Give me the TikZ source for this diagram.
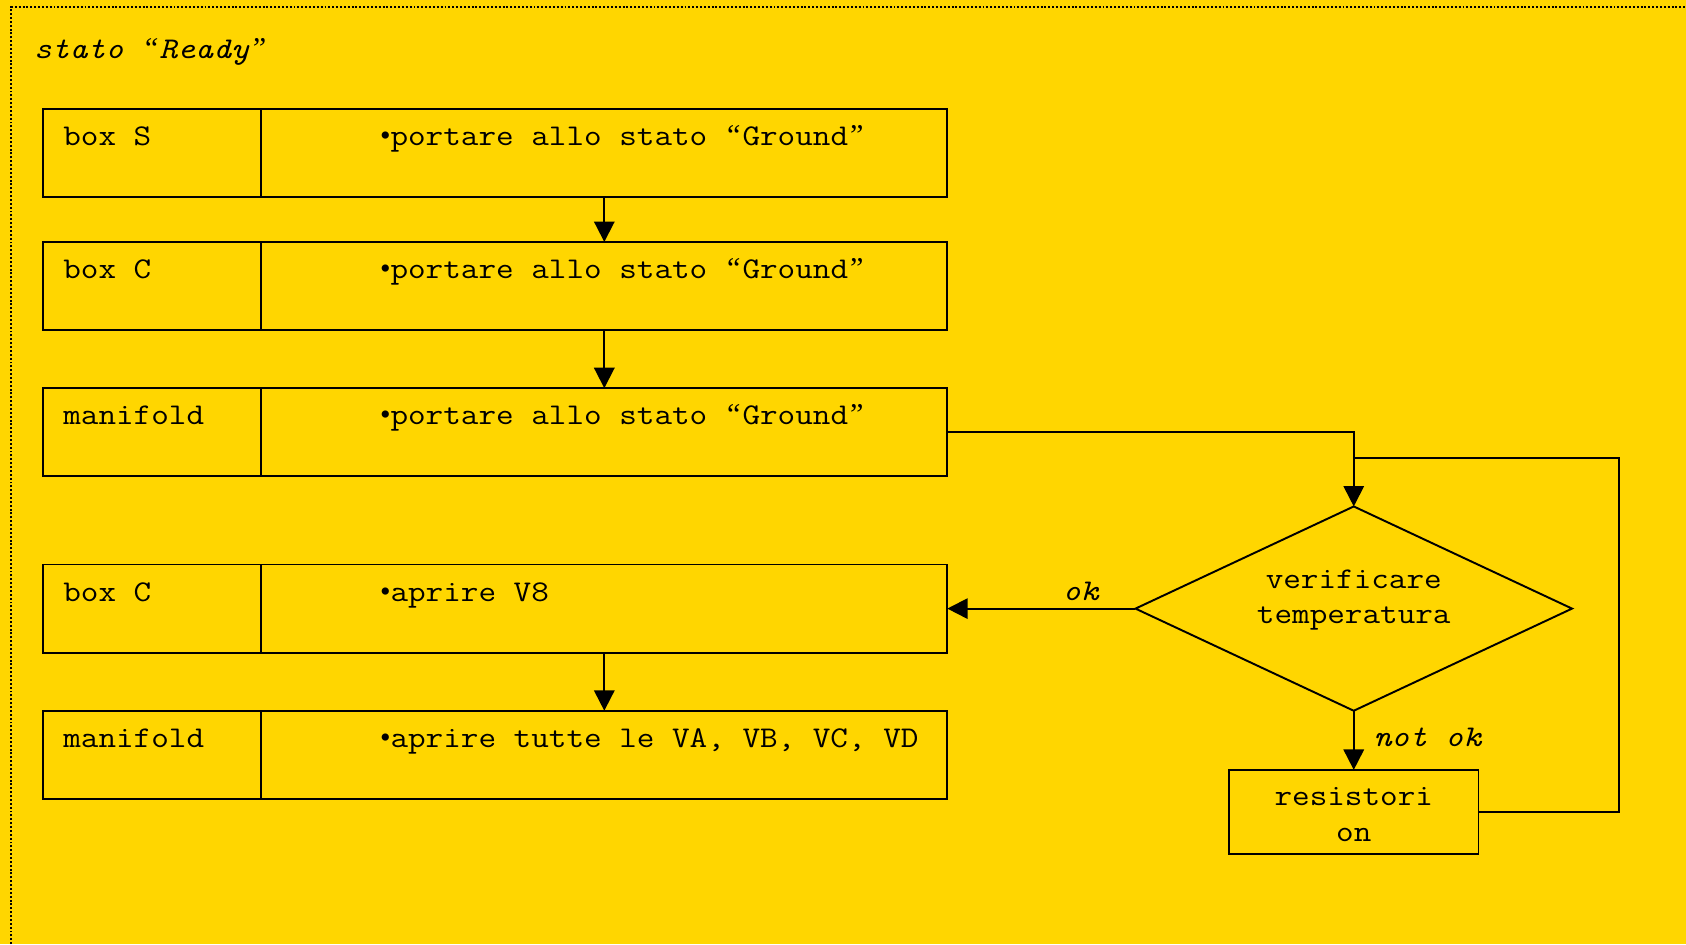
\documentclass[tikz,border=0pt]{standalone}
\usepackage{fontspec}
\setmainfont{Latin Modern Mono}[FakeStretch=1.135]
\newfontfamily\bulfont{Liberation Serif}
\usetikzlibrary{shapes.geometric,arrows.meta}
\definecolor{gold}{RGB}{255,214,0}
\newcommand{\bul}{{\bulfont •}}
\newcommand{\oq}{\hbox to \fontcharwd\font`\x{\hss{\bulfont “}\hss}}
\newcommand{\cq}{\hbox to \fontcharwd\font`\x{\hss{\bulfont ”}\hss}}
\newcommand{\ioq}{\hbox to \fontcharwd\font`\x{\hss{\bulfont\itshape “}\hss}}
\newcommand{\icq}{\hbox to \fontcharwd\font`\x{\hss{\bulfont\itshape ”}\hss}}
\begin{document}
\begin{tikzpicture}[x=0.5pt,y=-0.5pt,
  cell/.style={draw,line width=0.9pt,rectangle,inner sep=0pt,outer sep=0pt,anchor=north west,minimum height=41pt},
  lab/.style={cell,minimum width=101.5pt},
  body/.style={cell,minimum width=319pt},
  txt/.style={anchor=base west,inner sep=0pt,font=\fontsize{14}{16.4}\selectfont},
  ctxt/.style={txt,anchor=base},
  itxt/.style={txt,font=\fontsize{14}{16.4}\selectfont\itshape},
  line/.style={line width=0.9pt},
  arr/.style={line,-{Triangle[length=9.5pt,width=9.5pt]}},
  border/.style={line width=0.9pt,dash pattern=on 0.9pt off 0.9pt}
]
\useasboundingbox (0,0) rectangle (1568,878);
\fill[gold] (0,0) rectangle (1568,878);
\coordinate (b1) at (10.5,878);
\coordinate (b2) at (10.5,6.5);
\coordinate (b3) at (1568,6.5);
\draw[border] (b1) -- (b2) -- (b3);

\node[itxt] (title) at (31,54) {stato \ioq Ready\icq};

% rows
\node[lab]  (sL)  at (40,101) {};
\node[body] (sR)  at (243,101) {};
\node[txt]  (sLt) at (58.5,135) {box S};
\node[txt]  (sRt) at (353,135) {\bul portare allo stato \oq Ground\cq};

\node[lab]  (cL)  at (40,225) {};
\node[body] (cR)  at (243,225) {};
\node[txt]  (cLt) at (58.5,259) {box C};
\node[txt]  (cRt) at (353,259) {\bul portare allo stato \oq Ground\cq};

\node[lab]  (mL)  at (40,361) {};
\node[body] (mR)  at (243,361) {};
\node[txt]  (mLt) at (58.5,395) {manifold};
\node[txt]  (mRt) at (353,395) {\bul portare allo stato \oq Ground\cq};

\node[lab]  (c2L) at (40,525) {};
\node[body] (c2R) at (243,525) {};
\node[txt]  (c2Lt) at (58.5,559) {box C};
\node[txt]  (c2Rt) at (353,559) {\bul aprire V8};

\node[lab]  (m2L) at (40,661) {};
\node[body] (m2R) at (243,661) {};
\node[txt]  (m2Lt) at (58.5,695) {manifold};
\node[txt]  (m2Rt) at (353,695) {\bul aprire tutte le VA, VB, VC, VD};

% decision
\node[draw,line,diamond,aspect=2.14,inner sep=0pt,outer sep=0pt,minimum width=203pt,minimum height=95pt] (dia) at (1259,566) {};
\node[ctxt] (dt1) at (1259,547) {verificare};
\node[ctxt] (dt2) at (1259,580) {temperatura};

\node[draw,line,rectangle,inner sep=0pt,outer sep=0pt,minimum width=116pt,minimum height=39pt] (res) at (1259,755) {};
\node[ctxt] (rt1) at (1259,749) {resistori};
\node[ctxt] (rt2) at (1259,783) {on};

% connectors
\draw[arr] (sR.south) -- (cR.north);
\draw[arr] (cR.south) -- (mR.north);
\draw[arr] (c2R.south) -- (m2R.north);
\draw[arr] (mR.east) -| (dia.north);
\draw[arr] (dia.west) -- (c2R.east);
\draw[arr] (dia.south) -- (res.north);
\coordinate (lp) at (1506,426);
\coordinate (jn) at (1259,426);
\draw[line] (res.east) -| (lp) -- (jn);

\node[itxt] (ok) at (988,558) {ok};
\node[itxt] (nok) at (1277,694) {not ok};
\end{tikzpicture}
\end{document}
